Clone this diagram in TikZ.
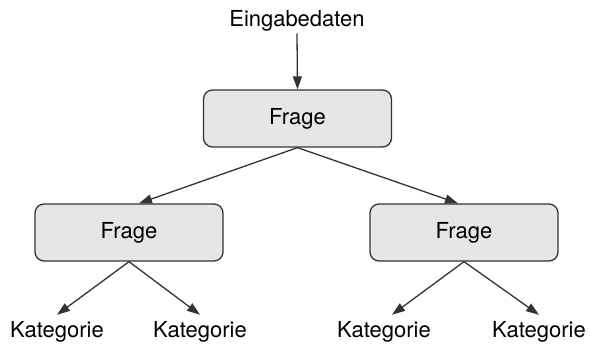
\documentclass[tikz,border=0pt]{standalone}
\usepackage{fontspec}
\setmainfont{TeX Gyre Heros}
\usetikzlibrary{arrows.meta}
\definecolor{boxfill}{HTML}{E6E6E6}
\definecolor{linec}{HTML}{333333}
\begin{document}
\begin{tikzpicture}[x=1pt,y=-1pt,
  qbox/.style={draw=linec,line width=1.3pt,fill=boxfill,rounded corners=9pt,
    minimum width=188pt,minimum height=57pt,inner sep=0pt,font=\fontsize{22}{26}\selectfont},
  lbl/.style={inner sep=0pt,font=\fontsize{22}{26}\selectfont,anchor=base},
  arr/.style={draw=linec,line width=1.3pt,-{Triangle[length=13pt,width=9pt]}}]
\useasboundingbox (0,0) rectangle (590,344);
\node[lbl] (inp) at (297,27) {Eingabedaten};
\node[qbox] (q0) at (297.5,118.5) {Frage};
\node[qbox] (q1) at (129,232.5) {Frage};
\node[qbox] (q2) at (464,232.5) {Frage};
\node[lbl] (k1) at (57,338) {Kategorie};
\node[lbl] (k2) at (200,338) {Kategorie};
\node[lbl] (k3) at (384,338) {Kategorie};
\node[lbl] (k4) at (539,338) {Kategorie};
\draw[arr] ([yshift=-1.5pt]inp.south) -- (q0.north);
\draw[arr] (q0.south) -- ([xshift=10pt]q1.north);
\draw[arr] (q0.south) -- ([xshift=-6pt]q2.north);
\draw[arr] (q1.south) -- ([yshift=7pt]k1.north);
\draw[arr] (q1.south) -- ([yshift=7pt]k2.north);
\draw[arr] (q2.south) -- ([xshift=8pt,yshift=7pt]k3.north);
\draw[arr] (q2.south) -- ([yshift=7pt]k4.north);
\end{tikzpicture}
\end{document}
